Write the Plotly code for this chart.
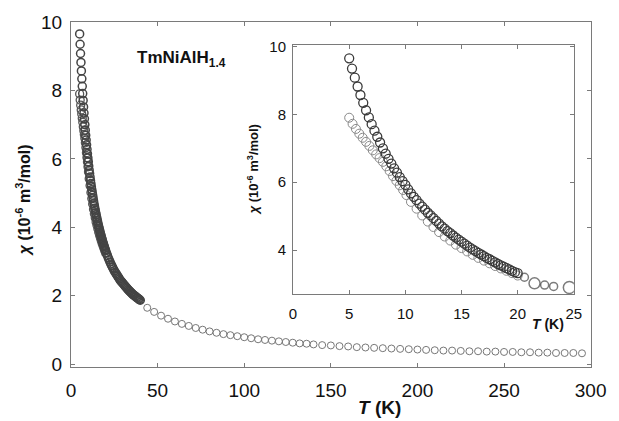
import plotly.graph_objects as go

# ---- data ----
# main dense low-temperature branch (K, 1e-6 m^3/mol)
T_low = [5.0, 5.25, 5.5, 5.75, 6.0, 6.25, 6.5, 6.75, 7.0, 7.25, 7.5, 7.75, 8.0, 8.25, 8.5, 8.75,
         9.0, 9.25, 9.5, 9.75, 10.0, 10.5, 11.0, 11.5, 12.0, 12.5, 13.0, 13.5, 14.0, 14.5, 15.0,
         15.5, 16.0, 16.5, 17.0, 17.5, 18.0, 18.5, 19.0, 19.5, 20.0]
chi_low = [9.65, 9.35, 9.08, 8.82, 8.57, 8.34, 8.12, 7.91, 7.71, 7.52, 7.34, 7.17, 7.00, 6.84, 6.69, 6.55,
           6.41, 6.28, 6.15, 6.03, 5.92, 5.67, 5.47, 5.28, 5.10, 4.94, 4.78, 4.63, 4.50, 4.37, 4.25,
           4.13, 4.02, 3.92, 3.82, 3.73, 3.64, 3.55, 3.47, 3.39, 3.32]
T_low_b = [10.25, 10.75, 11.25, 11.75, 12.25, 12.75, 13.25, 13.75, 14.25, 14.75, 15.25, 15.75,
           16.25, 16.75, 17.25, 17.75, 18.25, 18.75, 19.25, 19.75]
chi_low_b = [5.79, 5.57, 5.37, 5.19, 5.02, 4.86, 4.70, 4.56, 4.43, 4.31, 4.19, 4.07,
             3.97, 3.87, 3.77, 3.68, 3.59, 3.51, 3.43, 3.35]
T_mid = [20.5, 21.0, 21.5, 22.0, 22.5, 23.0, 23.5, 24.0, 24.5, 25.0, 25.5, 26.0, 26.5, 27.0, 27.5,
         28.0, 28.5, 29.0, 29.5, 30.0, 30.5, 31.0, 31.5, 32.0, 32.5, 33.0, 33.5, 34.0, 34.5, 35.0,
         35.5, 36.0, 36.5, 37.0, 37.5, 38.0, 38.5, 39.0, 39.5, 40.0]
chi_mid = [3.25, 3.18, 3.11, 3.05, 2.99, 2.93, 2.88, 2.83, 2.78, 2.73, 2.69, 2.65, 2.61, 2.57, 2.53,
           2.49, 2.45, 2.42, 2.39, 2.36, 2.33, 2.30, 2.27, 2.24, 2.21, 2.18, 2.15, 2.13, 2.10, 2.08,
           2.05, 2.03, 2.01, 1.99, 1.97, 1.95, 1.93, 1.91, 1.89, 1.87]
# sparse high-temperature points
T_high = [44, 48, 52, 56, 60, 64, 68, 72, 76, 80, 84, 88, 92, 96, 100, 104, 108, 112, 116, 120,
          124, 128, 132, 136, 140, 145, 150, 155, 160, 165, 170, 175, 180, 185, 190, 195, 200, 205,
          210, 215, 220, 225, 230, 235, 240, 245, 250, 255, 260, 265, 270, 275, 280, 285, 290, 295]
chi_high = [1.65, 1.53, 1.42, 1.33, 1.25, 1.18, 1.12, 1.06, 1.01, 0.96, 0.92, 0.88, 0.85, 0.82,
            0.79, 0.76, 0.73, 0.71, 0.69, 0.67, 0.65, 0.63, 0.61, 0.60, 0.58, 0.56, 0.55, 0.53,
            0.52, 0.50, 0.49, 0.48, 0.47, 0.46, 0.45, 0.44, 0.43, 0.42, 0.41, 0.40, 0.40, 0.39,
            0.38, 0.38, 0.37, 0.37, 0.36, 0.36, 0.35, 0.35, 0.34, 0.34, 0.33, 0.33, 0.33, 0.32]

# inset: lower branch
T_lower = [5.0, 5.3, 5.6, 5.9, 6.2, 6.5, 6.8, 7.1, 7.4, 7.7, 8.0, 8.3, 8.6, 8.9, 9.2, 9.5, 9.8,
           10.1, 10.5, 11.0, 11.5, 12.0, 12.5, 13.0, 13.5, 14.0, 14.5, 15.0, 15.5, 16.0, 16.5,
           17.0, 17.5, 18.0, 18.5, 19.0, 19.5, 20.0]
chi_lower = [7.90, 7.72, 7.57, 7.43, 7.31, 7.19, 7.07, 6.94, 6.82, 6.71, 6.60, 6.47, 6.33, 6.18,
             6.04, 5.91, 5.77, 5.62, 5.42, 5.22, 5.02, 4.84, 4.68, 4.53, 4.40, 4.28, 4.16, 4.06,
             3.96, 3.86, 3.77, 3.69, 3.61, 3.53, 3.46, 3.39, 3.32, 3.25]
# inset: points beyond 20 K
T_tail = [20.6, 21.5, 22.4, 23.2, 24.6]
chi_tail = [3.20, 3.02, 2.97, 2.93, 2.90]
tail_size = [8, 11, 8, 8, 12]

x_ticks_main = [0, 50, 100, 150, 200, 250, 300]
y_ticks_main = [0, 2, 4, 6, 8, 10]
x_ticks_inset = [0, 5, 10, 15, 20, 25]
y_ticks_inset = [4, 6, 8, 10]

FONT = "Liberation Sans, Arial, sans-serif"

fig = go.Figure()

# main plot
fig.add_trace(go.Scatter(x=T_lower, y=chi_lower, mode="markers",
                         marker=dict(symbol="circle-open", size=8, color="#555555",
                                     line=dict(width=1.3)),
                         xaxis="x", yaxis="y", showlegend=False))
fig.add_trace(go.Scatter(x=T_low + T_low_b + T_mid, y=chi_low + chi_low_b + chi_mid, mode="markers",
                         marker=dict(symbol="circle-open", size=8, color="#444444",
                                     line=dict(width=1.5)),
                         xaxis="x", yaxis="y", showlegend=False))
fig.add_trace(go.Scatter(x=T_high, y=chi_high, mode="markers",
                         marker=dict(symbol="circle-open", size=7, color="#777777",
                                     line=dict(width=1)),
                         xaxis="x", yaxis="y", showlegend=False))

# inset
fig.add_trace(go.Scatter(x=T_lower, y=chi_lower, mode="markers",
                         marker=dict(symbol="circle-open", size=9, color="#8a8a8a",
                                     line=dict(width=1)),
                         xaxis="x2", yaxis="y2", showlegend=False))
fig.add_trace(go.Scatter(x=T_low + T_low_b, y=chi_low + chi_low_b, mode="markers",
                         marker=dict(symbol="circle-open", size=9, color="#3a3a3a",
                                     line=dict(width=1.3)),
                         xaxis="x2", yaxis="y2", showlegend=False))
fig.add_trace(go.Scatter(x=T_tail, y=chi_tail, mode="markers",
                         marker=dict(symbol="circle-open", size=tail_size, color="#444444",
                                     line=dict(width=1.5)),
                         xaxis="x2", yaxis="y2", showlegend=False))

axis_common = dict(showline=True, linecolor="#7a7a7a", linewidth=1, mirror="ticks",
                   ticks="inside", ticklen=4, tickcolor="#7a7a7a", showgrid=False,
                   zeroline=False)

fig.update_layout(
    width=619, height=421,
    margin=dict(l=71, r=18, t=17, b=54),
    paper_bgcolor="white", plot_bgcolor="white",
    font=dict(family=FONT, color="#222222"),
    xaxis=dict(domain=[0, 1], range=[0, 300.2], tickvals=x_ticks_main,
               tickfont=dict(size=19, family=FONT, color="#111"), ticklabelstandoff=6,
               anchor="y", **axis_common),
    yaxis=dict(domain=[0, 1], range=[-0.08, 10.0], tickvals=y_ticks_main,
               tickfont=dict(size=19, family=FONT, color="#111"), ticklabelstandoff=4,
               anchor="x", **axis_common),
    xaxis2=dict(domain=[0.427, 0.967], range=[0, 25], tickvals=x_ticks_inset,
                tickfont=dict(size=15, family=FONT, color="#111"), ticklabelstandoff=6,
                anchor="y2", **axis_common),
    yaxis2=dict(domain=[0.211, 0.934], range=[2.7, 10.05], tickvals=y_ticks_inset,
                tickfont=dict(size=15, family=FONT, color="#111"), ticklabelstandoff=3,
                anchor="x2", **axis_common),
)

ann = [
    dict(text="<b><i>T</i> (K)</b>", x=385, y=408, size=19),
    dict(text="<b><i>χ</i> (10<sup>-6</sup> m<sup>3</sup>/mol)</b>", x=23, y=198, size=16, angle=-90),
    dict(text="<b>TmNiAlH<sub>1.4</sub></b>", x=184, y=55, size=17),
    dict(text="<b><i>T</i> (K)</b>", x=557, y=323, size=14),
    dict(text="<b><i>χ</i> (10<sup>-6</sup> m<sup>3</sup>/mol)</b>", x=256, y=167, size=13, angle=-90),
]
for a in ann:
    fig.add_annotation(
        text=a["text"], xref="paper", yref="paper",
        x=(a["x"] - 71) / 530, y=(367 - a["y"]) / 350,
        xanchor="center", yanchor="middle", showarrow=False,
        textangle=a.get("angle", 0),
        font=dict(size=a["size"], family=FONT, color="#111"))

fig.write_html("out.html")
